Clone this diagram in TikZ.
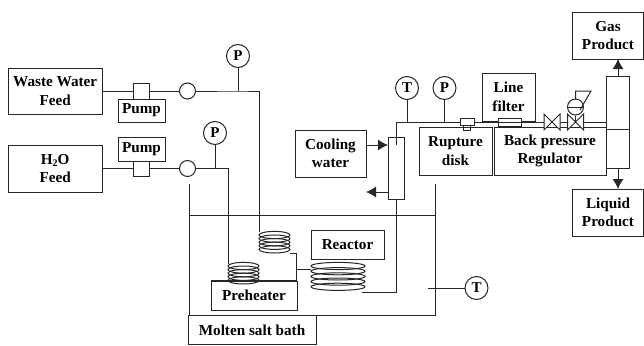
\documentclass[tikz,border=0pt]{standalone}
\usepackage{fontspec}
\setmainfont{Liberation Serif}
\usetikzlibrary{arrows.meta}
\tikzset{
  boxn/.style={draw=black!85,line width=0.9pt,inner sep=0pt,align=center,font=\fontsize{15.2}{18.5}\selectfont\bfseries,anchor=center},
  gauge/.style={draw=black!85,circle,line width=1pt,minimum size=23pt,inner sep=0pt,font=\fontsize{15}{15}\selectfont\bfseries},
  flow/.style={circle,draw=black!85,line width=1pt,minimum size=16pt,inner sep=0pt,fill=white},
  pipe/.style={draw=black!85,line width=1pt},
  tube/.style={draw=black!85,line width=1pt},
  arr/.style={pipe,-{Latex[length=10pt,width=11pt]}},
}
\newcommand{\coilat}[5]{% cx, top, rx, n, step
  \foreach \i in {1,...,#4}{\draw[tube] (#1,#2+#5*\i-#5) ellipse [x radius=#3,y radius=3.6];}
}
\begin{document}
\begin{tikzpicture}[x=1pt,y=-1pt]
\useasboundingbox (0,0) rectangle (644,345);
% --- feeds
\node[boxn,minimum width=94.5pt,minimum height=46pt] (waste) at (55.2,91) {Waste Water\\Feed};
\node[boxn,minimum width=94.5pt,minimum height=47pt] (water) at (55.2,168.5) {H\raisebox{-2.5pt}{\fontsize{10}{10}\selectfont 2}O\\Feed};
\node[boxn,minimum width=47pt,minimum height=23pt] (pumpa) at (141.5,110.5) {Pump};
\node[boxn,minimum width=47pt,minimum height=23.5pt] (pumpb) at (141.5,149.3) {Pump};
\node[draw=black!85,line width=0.9pt,minimum width=15.5pt,minimum height=16pt,inner sep=0pt] (heada) at (141.5,91) {};
\node[draw=black!85,line width=0.9pt,minimum width=15.5pt,minimum height=15pt,inner sep=0pt] (headb) at (141.5,168.5) {};
\node[flow] (flowa) at (187.5,91) {};
\node[flow] (flowb) at (187.5,168.5) {};
\node[gauge] (pa) at (238,56) {P};
\node[gauge] (pb) at (215,133) {P};
\coordinate (ja) at (238,91);
\coordinate (jb) at (215,168.5);
\coordinate (ca) at (259,91);
\coordinate (cb) at (228,168.5);
\coordinate (coilain) at (259,232);
\coordinate (coilbin) at (228,264);
\draw[pipe] (waste) -- (heada) -- (flowa) -- (ja) -- (ca) -- (coilain);
\draw[pipe] (water) -- (headb) -- (flowb) -- (jb) -- (cb) -- (coilbin);
\draw[pipe] (pa) -- (ja);
\draw[pipe] (pb) -- (jb);
% --- bath
\coordinate (bl) at (189.5,184);
\coordinate (br) at (435,184);
\coordinate (bbl) at (189.5,315);
\coordinate (bbr) at (435,315);
\coordinate (bwl) at (189.5,215);
\coordinate (bwr) at (435,215);
\draw[pipe] (bl) -- (bbl) -- (bbr) -- (br);
\draw[pipe] (bwl) -- (bwr);
\node[boxn,minimum width=128pt,minimum height=29pt] (bath) at (252,330) {Molten salt bath};
\node[gauge] (tb) at (476.5,288) {T};
\coordinate (tbin) at (428,288);
\draw[pipe] (tbin) -- (tb);
% --- coils and heater
\node[boxn,minimum width=73pt,minimum height=28.5pt] (reactor) at (347.5,245) {Reactor};
\node[boxn,minimum width=86pt,minimum height=29pt] (preheater) at (254,295.5) {Preheater};
\coilat{274.5}{235}{15.5}{5}{3.6}
\coilat{243.5}{266}{15.5}{5}{3.6}
\coilat{338}{266}{27}{5}{5.2}
\draw[pipe,line width=1.6pt] (preheater.north west) -- (preheater.north east);
\coordinate (ra) at (290,253);
\coordinate (rb) at (296,253);
\coordinate (rc) at (296,281);
\coordinate (rd) at (296,269);
\coordinate (re) at (311,269);
\draw[pipe] (ra) -- (rb) -- (rc);
\draw[pipe] (rd) -- (re);
% --- condenser and top line
\node[draw=black!85,line width=0.9pt,minimum width=16pt,minimum height=62.5pt,inner sep=0pt] (cond) at (396,168.3) {};
\node[boxn,minimum width=71pt,minimum height=47pt] (cool) at (330.5,153.5) {Cooling\\water};
\coordinate (co) at (366,145);
\coordinate (ci) at (388,145);
\coordinate (cu) at (388,192);
\coordinate (cv) at (366,192);
\draw[arr] (co) -- (ci);
\draw[arr] (cu) -- (cv);
\coordinate (ctop) at (396,145);
\coordinate (cbend) at (396,122);
\coordinate (cbot) at (396,199.5);
\coordinate (rout) at (396,292);
\coordinate (routa) at (362,292);
\draw[pipe] (routa) -- (rout) -- (cbot);
\coordinate (seps) at (606,122);
\draw[pipe] (ctop) -- (cbend) -- (seps);
\node[gauge] (tt) at (407,88) {T};
\node[gauge] (pt) at (444.5,88) {P};
\coordinate (jt) at (407,122);
\coordinate (jp) at (444.5,122);
\draw[pipe] (tt) -- (jt);
\draw[pipe] (pt) -- (jp);
% --- boxes along the line
\node[boxn,minimum width=73pt,minimum height=48pt] (rupt) at (455.5,151) {Rupture\\disk};
\node[boxn,minimum width=112pt,minimum height=48pt] (bpr) at (550,151) {Back pressure\\Regulator};
\node[boxn,minimum width=53pt,minimum height=48pt] (filter) at (508.5,97) {Line\\filter};
\node[draw=black!85,fill=white,line width=0.9pt,minimum width=14pt,minimum height=7pt,inner sep=0pt] (disk) at (467,121.5) {};
\node[draw=black!85,line width=0.9pt,minimum width=7pt,minimum height=5pt,inner sep=0pt] (diskb) at (467,127.5) {};
\node[draw=black!85,fill=white,line width=0.9pt,minimum width=23pt,minimum height=8pt,inner sep=0pt] (felem) at (509.5,122) {};
\draw[pipe] (felem.west) -- (felem.east);
% --- valves (drawn directly)
\draw[pipe,fill=white] (544,114) -- (560,130) -- (560,114) -- (544,130) -- cycle;
\draw[pipe,fill=white] (567.5,114) -- (583.5,130) -- (583.5,114) -- (567.5,130) -- cycle;
\node[circle,draw=black!85,line width=1pt,minimum size=16pt,inner sep=0pt,fill=white] (act) at (575.5,107) {};
\draw[pipe] (act.west) -- (act.east);
\draw[pipe] (act.south) -- (575.5,122);
\draw[pipe] (575.5,99) -- (575.5,91) -- (591,91) -- (580,110);
% --- separator
\node[draw=black!85,line width=0.9pt,minimum width=23.5pt,minimum height=92pt,inner sep=0pt] (sep) at (617.8,122) {};
\coordinate (sepl) at (606,129.5);
\coordinate (sepr) at (629.5,129.5);
\draw[pipe] (sepl) -- (sepr);
\node[boxn,minimum width=71pt,minimum height=47pt] (gas) at (608,35.5) {Gas\\Product};
\node[boxn,minimum width=71pt,minimum height=47pt] (liq) at (608,212.5) {Liquid\\Product};
\coordinate (sa) at (618,76);
\coordinate (sb) at (618,59);
\coordinate (sc) at (618,168);
\coordinate (sd) at (618,189);
\draw[arr] (sa) -- (sb);
\draw[arr] (sc) -- (sd);
\end{tikzpicture}
\end{document}
